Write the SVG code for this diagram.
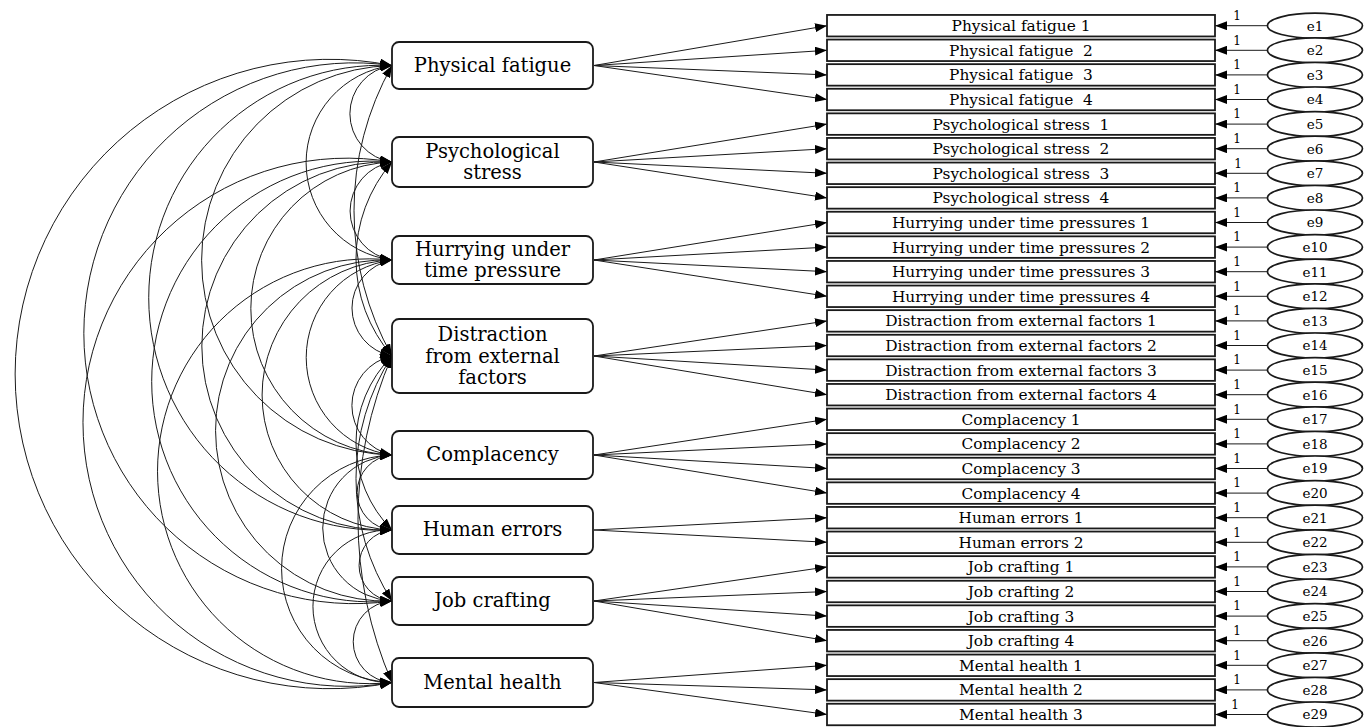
<svg xmlns="http://www.w3.org/2000/svg" width="1370" height="727" viewBox="0 0 1370 727">
<style>
.lat{fill:#fff;stroke:#1a1a1a;stroke-width:1.8}
.ind{fill:#fff;stroke:#1a1a1a;stroke-width:1.8}
.err{fill:#fff;stroke:#1a1a1a;stroke-width:1.7}
.lt{font-family:"DejaVu Serif","Liberation Serif",serif;font-size:19.5px;fill:#000;text-anchor:middle}
.it{font-family:"DejaVu Serif","Liberation Serif",serif;font-size:15.4px;fill:#000;text-anchor:middle;white-space:pre}
.et{font-family:"DejaVu Serif","Liberation Serif",serif;font-size:13.5px;fill:#000;text-anchor:middle}
.one{font-family:"DejaVu Serif","Liberation Serif",serif;font-size:12px;fill:#000;text-anchor:middle}
.arc{fill:none;stroke:#1a1a1a;stroke-width:1;marker-start:url(#ah);marker-end:url(#ah)}
.ld{fill:none;stroke:#1a1a1a;stroke-width:1;marker-end:url(#ah)}
</style>
<defs>
<marker id="ah" viewBox="0 0 12 9" refX="12" refY="4.5" markerWidth="12" markerHeight="9" markerUnits="userSpaceOnUse" orient="auto-start-reverse"><path d="M0,0 L12,4.5 L0,9 z" fill="#000"/></marker>
</defs>
<rect width="1370" height="727" fill="#fff"/>
<g id="connectors">
<path class="arc" d="M392 65.5 A48.7 48.7 0 0 0 392 162"/>
<path class="arc" d="M392 65.5 A98 98 0 0 0 392 260"/>
<path class="arc" d="M392 65.5 A296.6 296.6 0 0 0 392 356"/>
<path class="arc" d="M392 65.5 A194.8 194.8 0 0 0 392 455"/>
<path class="arc" d="M392 65.5 A232.5 232.5 0 1 0 392 530"/>
<path class="arc" d="M392 65.5 A270.4 270.4 0 1 0 392 601"/>
<path class="arc" d="M392 65.5 A314.7 314.7 0 1 0 392 682.5"/>
<path class="arc" d="M392 162 A49.6 49.6 0 0 0 392 260"/>
<path class="arc" d="M392 162 A148.7 148.7 0 0 0 392 356"/>
<path class="arc" d="M392 162 A146.6 146.6 0 0 0 392 455"/>
<path class="arc" d="M392 162 A184.1 184.1 0 1 0 392 530"/>
<path class="arc" d="M392 162 A220.4 220.4 0 1 0 392 601"/>
<path class="arc" d="M392 162 A264.1 264.1 0 1 0 392 682.5"/>
<path class="arc" d="M392 260 A48.8 48.8 0 0 0 392 356"/>
<path class="arc" d="M392 260 A98.3 98.3 0 0 0 392 455"/>
<path class="arc" d="M392 260 A135.1 135.1 0 0 0 392 530"/>
<path class="arc" d="M392 260 A170.6 170.6 0 1 0 392 601"/>
<path class="arc" d="M392 260 A212.4 212.4 0 1 0 392 682.5"/>
<path class="arc" d="M392 356 A50.6 50.6 0 0 0 392 455"/>
<path class="arc" d="M392 356 A123.1 123.1 0 0 0 392 530"/>
<path class="arc" d="M392 356 A226.4 226.4 0 0 0 392 601"/>
<path class="arc" d="M392 356 A408.9 408.9 0 0 0 392 682.5"/>
<path class="arc" d="M392 455 A37.6 37.6 0 0 0 392 530"/>
<path class="arc" d="M392 455 A73.1 73.1 0 0 0 392 601"/>
<path class="arc" d="M392 455 A113.8 113.8 0 0 0 392 682.5"/>
<path class="arc" d="M392 530 A35.6 35.6 0 0 0 392 601"/>
<path class="arc" d="M392 530 A76.3 76.3 0 1 0 392 682.5"/>
<path class="arc" d="M392 601 A40.8 40.8 0 0 0 392 682.5"/>

<path class="ld" d="M594 65.5 L827 25.7"/>
<path class="ld" d="M594 65.5 L827 50.3"/>
<path class="ld" d="M594 65.5 L827 74.9"/>
<path class="ld" d="M594 65.5 L827 99.5"/>
<path class="ld" d="M594 162 L827 124.1"/>
<path class="ld" d="M594 162 L827 148.7"/>
<path class="ld" d="M594 162 L827 173.3"/>
<path class="ld" d="M594 162 L827 197.9"/>
<path class="ld" d="M594 260 L827 222.5"/>
<path class="ld" d="M594 260 L827 247.1"/>
<path class="ld" d="M594 260 L827 271.7"/>
<path class="ld" d="M594 260 L827 296.3"/>
<path class="ld" d="M594 356 L827 320.9"/>
<path class="ld" d="M594 356 L827 345.5"/>
<path class="ld" d="M594 356 L827 370.1"/>
<path class="ld" d="M594 356 L827 394.7"/>
<path class="ld" d="M594 455 L827 419.3"/>
<path class="ld" d="M594 455 L827 443.9"/>
<path class="ld" d="M594 455 L827 468.5"/>
<path class="ld" d="M594 455 L827 493.1"/>
<path class="ld" d="M594 530 L827 517.7"/>
<path class="ld" d="M594 530 L827 542.3"/>
<path class="ld" d="M594 601 L827 566.9"/>
<path class="ld" d="M594 601 L827 591.5"/>
<path class="ld" d="M594 601 L827 616.1"/>
<path class="ld" d="M594 601 L827 640.7"/>
<path class="ld" d="M594 682.5 L827 665.3"/>
<path class="ld" d="M594 682.5 L827 689.9"/>
<path class="ld" d="M594 682.5 L827 714.5"/>

<path class="ld" d="M1267.5 25.7 L1215 25.7"/>
<path class="ld" d="M1267.5 50.3 L1215 50.3"/>
<path class="ld" d="M1267.5 74.9 L1215 74.9"/>
<path class="ld" d="M1267.5 99.5 L1215 99.5"/>
<path class="ld" d="M1267.5 124.1 L1215 124.1"/>
<path class="ld" d="M1267.5 148.7 L1215 148.7"/>
<path class="ld" d="M1267.5 173.3 L1215 173.3"/>
<path class="ld" d="M1267.5 197.9 L1215 197.9"/>
<path class="ld" d="M1267.5 222.5 L1215 222.5"/>
<path class="ld" d="M1267.5 247.1 L1215 247.1"/>
<path class="ld" d="M1267.5 271.7 L1215 271.7"/>
<path class="ld" d="M1267.5 296.3 L1215 296.3"/>
<path class="ld" d="M1267.5 320.9 L1215 320.9"/>
<path class="ld" d="M1267.5 345.5 L1215 345.5"/>
<path class="ld" d="M1267.5 370.1 L1215 370.1"/>
<path class="ld" d="M1267.5 394.7 L1215 394.7"/>
<path class="ld" d="M1267.5 419.3 L1215 419.3"/>
<path class="ld" d="M1267.5 443.9 L1215 443.9"/>
<path class="ld" d="M1267.5 468.5 L1215 468.5"/>
<path class="ld" d="M1267.5 493.1 L1215 493.1"/>
<path class="ld" d="M1267.5 517.7 L1215 517.7"/>
<path class="ld" d="M1267.5 542.3 L1215 542.3"/>
<path class="ld" d="M1267.5 566.9 L1215 566.9"/>
<path class="ld" d="M1267.5 591.5 L1215 591.5"/>
<path class="ld" d="M1267.5 616.1 L1215 616.1"/>
<path class="ld" d="M1267.5 640.7 L1215 640.7"/>
<path class="ld" d="M1267.5 665.3 L1215 665.3"/>
<path class="ld" d="M1267.5 689.9 L1215 689.9"/>
<path class="ld" d="M1267.5 714.5 L1215 714.5"/>
<g class="one">
<text x="1237" y="20">1</text><text x="1237" y="44.6">1</text><text x="1237" y="69.2">1</text><text x="1237" y="93.8">1</text><text x="1237" y="118.4">1</text><text x="1237" y="143">1</text><text x="1238" y="167.6">1</text><text x="1237" y="192.2">1</text><text x="1237" y="216.8">1</text><text x="1237" y="241.4">1</text><text x="1237" y="266">1</text><text x="1237" y="290.6">1</text><text x="1237" y="315.2">1</text><text x="1237" y="339.8">1</text><text x="1237" y="364.4">1</text><text x="1237" y="389">1</text><text x="1237" y="413.6">1</text><text x="1237" y="438.2">1</text><text x="1237" y="462.8">1</text><text x="1237" y="487.4">1</text><text x="1237" y="512">1</text><text x="1237" y="536.6">1</text><text x="1237" y="561.2">1</text><text x="1237" y="585.8">1</text><text x="1237" y="610.4">1</text><text x="1237" y="635">1</text><text x="1237" y="659.6">1</text><text x="1237" y="684.2">1</text><text x="1235" y="708.8">1</text>
</g>
</g>

<g id="n-pf"><rect class="lat" x="392" y="42" width="201" height="47" rx="7"/><text class="lt" x="492.5" y="72">Physical fatigue</text></g>
<g id="n-ps"><rect class="lat" x="392" y="137" width="201" height="50" rx="7"/><text class="lt" x="492.5" y="158">Psychological</text><text class="lt" x="492.5" y="179">stress</text></g>
<g id="n-hu"><rect class="lat" x="392" y="236" width="201" height="48" rx="7"/><text class="lt" x="492.5" y="256">Hurrying under</text><text class="lt" x="492.5" y="277">time pressure</text></g>
<g id="n-di"><rect class="lat" x="392" y="319" width="201" height="74" rx="7"/><text class="lt" x="492.5" y="341">Distraction</text><text class="lt" x="492.5" y="363">from external</text><text class="lt" x="492.5" y="384">factors</text></g>
<g id="n-co"><rect class="lat" x="392" y="431" width="201" height="48" rx="7"/><text class="lt" x="492.5" y="461">Complacency</text></g>
<g id="n-he"><rect class="lat" x="392" y="506" width="201" height="48" rx="7"/><text class="lt" x="492.5" y="536">Human errors</text></g>
<g id="n-jc"><rect class="lat" x="392" y="577" width="201" height="48" rx="7"/><text class="lt" x="492.5" y="607">Job crafting</text></g>
<g id="n-mh"><rect class="lat" x="392" y="658" width="201" height="49" rx="7"/><text class="lt" x="492.5" y="688.5">Mental health</text></g>

<g id="i1"><rect class="ind" x="827" y="14.95" width="388" height="21.5"/><text class="it" x="1021" y="31.2">Physical fatigue 1</text></g>
<g id="i2"><rect class="ind" x="827" y="39.55" width="388" height="21.5"/><text class="it" x="1021" y="55.8" xml:space="preserve">Physical fatigue  2</text></g>
<g id="i3"><rect class="ind" x="827" y="64.15" width="388" height="21.5"/><text class="it" x="1021" y="80.4" xml:space="preserve">Physical fatigue  3</text></g>
<g id="i4"><rect class="ind" x="827" y="88.75" width="388" height="21.5"/><text class="it" x="1021" y="105" xml:space="preserve">Physical fatigue  4</text></g>
<g id="i5"><rect class="ind" x="827" y="113.35" width="388" height="21.5"/><text class="it" x="1021" y="129.6" xml:space="preserve">Psychological stress  1</text></g>
<g id="i6"><rect class="ind" x="827" y="137.95" width="388" height="21.5"/><text class="it" x="1021" y="154.2" xml:space="preserve">Psychological stress  2</text></g>
<g id="i7"><rect class="ind" x="827" y="162.55" width="388" height="21.5"/><text class="it" x="1021" y="178.8" xml:space="preserve">Psychological stress  3</text></g>
<g id="i8"><rect class="ind" x="827" y="187.15" width="388" height="21.5"/><text class="it" x="1021" y="203.4" xml:space="preserve">Psychological stress  4</text></g>
<g id="i9"><rect class="ind" x="827" y="211.75" width="388" height="21.5"/><text class="it" x="1021" y="228">Hurrying under time pressures 1</text></g>
<g id="i10"><rect class="ind" x="827" y="236.35" width="388" height="21.5"/><text class="it" x="1021" y="252.6">Hurrying under time pressures 2</text></g>
<g id="i11"><rect class="ind" x="827" y="260.95" width="388" height="21.5"/><text class="it" x="1021" y="277.2">Hurrying under time pressures 3</text></g>
<g id="i12"><rect class="ind" x="827" y="285.55" width="388" height="21.5"/><text class="it" x="1021" y="301.8">Hurrying under time pressures 4</text></g>
<g id="i13"><rect class="ind" x="827" y="310.15" width="388" height="21.5"/><text class="it" x="1021" y="326.4">Distraction from external factors 1</text></g>
<g id="i14"><rect class="ind" x="827" y="334.75" width="388" height="21.5"/><text class="it" x="1021" y="351">Distraction from external factors 2</text></g>
<g id="i15"><rect class="ind" x="827" y="359.35" width="388" height="21.5"/><text class="it" x="1021" y="375.6">Distraction from external factors 3</text></g>
<g id="i16"><rect class="ind" x="827" y="383.95" width="388" height="21.5"/><text class="it" x="1021" y="400.2">Distraction from external factors 4</text></g>
<g id="i17"><rect class="ind" x="827" y="408.55" width="388" height="21.5"/><text class="it" x="1021" y="424.8">Complacency 1</text></g>
<g id="i18"><rect class="ind" x="827" y="433.15" width="388" height="21.5"/><text class="it" x="1021" y="449.4">Complacency 2</text></g>
<g id="i19"><rect class="ind" x="827" y="457.75" width="388" height="21.5"/><text class="it" x="1021" y="474">Complacency 3</text></g>
<g id="i20"><rect class="ind" x="827" y="482.35" width="388" height="21.5"/><text class="it" x="1021" y="498.6">Complacency 4</text></g>
<g id="i21"><rect class="ind" x="827" y="506.95" width="388" height="21.5"/><text class="it" x="1021" y="523.2">Human errors 1</text></g>
<g id="i22"><rect class="ind" x="827" y="531.55" width="388" height="21.5"/><text class="it" x="1021" y="547.8">Human errors 2</text></g>
<g id="i23"><rect class="ind" x="827" y="556.15" width="388" height="21.5"/><text class="it" x="1021" y="572.4">Job crafting 1</text></g>
<g id="i24"><rect class="ind" x="827" y="580.75" width="388" height="21.5"/><text class="it" x="1021" y="597">Job crafting 2</text></g>
<g id="i25"><rect class="ind" x="827" y="605.35" width="388" height="21.5"/><text class="it" x="1021" y="621.6">Job crafting 3</text></g>
<g id="i26"><rect class="ind" x="827" y="629.95" width="388" height="21.5"/><text class="it" x="1021" y="646.2">Job crafting 4</text></g>
<g id="i27"><rect class="ind" x="827" y="654.55" width="388" height="21.5"/><text class="it" x="1021" y="670.8">Mental health 1</text></g>
<g id="i28"><rect class="ind" x="827" y="679.15" width="388" height="21.5"/><text class="it" x="1021" y="695.4">Mental health 2</text></g>
<g id="i29"><rect class="ind" x="827" y="703.75" width="388" height="21.5"/><text class="it" x="1021" y="720">Mental health 3</text></g>

<g id="e1"><ellipse class="err" cx="1315" cy="25.7" rx="47.5" ry="12.5"/><text class="et" x="1315" y="30.5">e1</text></g>
<g id="e2"><ellipse class="err" cx="1315" cy="50.3" rx="47.5" ry="12.5"/><text class="et" x="1315" y="55.1">e2</text></g>
<g id="e3"><ellipse class="err" cx="1315" cy="74.9" rx="47.5" ry="12.5"/><text class="et" x="1315" y="79.7">e3</text></g>
<g id="e4"><ellipse class="err" cx="1315" cy="99.5" rx="47.5" ry="12.5"/><text class="et" x="1315" y="104.3">e4</text></g>
<g id="e5"><ellipse class="err" cx="1315" cy="124.1" rx="47.5" ry="12.5"/><text class="et" x="1315" y="128.9">e5</text></g>
<g id="e6"><ellipse class="err" cx="1315" cy="148.7" rx="47.5" ry="12.5"/><text class="et" x="1315" y="153.5">e6</text></g>
<g id="e7"><ellipse class="err" cx="1315" cy="173.3" rx="47.5" ry="12.5"/><text class="et" x="1315" y="178.1">e7</text></g>
<g id="e8"><ellipse class="err" cx="1315" cy="197.9" rx="47.5" ry="12.5"/><text class="et" x="1315" y="202.7">e8</text></g>
<g id="e9"><ellipse class="err" cx="1315" cy="222.5" rx="47.5" ry="12.5"/><text class="et" x="1315" y="227.3">e9</text></g>
<g id="e10"><ellipse class="err" cx="1315" cy="247.1" rx="47.5" ry="12.5"/><text class="et" x="1315" y="251.9">e10</text></g>
<g id="e11"><ellipse class="err" cx="1315" cy="271.7" rx="47.5" ry="12.5"/><text class="et" x="1315" y="276.5">e11</text></g>
<g id="e12"><ellipse class="err" cx="1315" cy="296.3" rx="47.5" ry="12.5"/><text class="et" x="1315" y="301.1">e12</text></g>
<g id="e13"><ellipse class="err" cx="1315" cy="320.9" rx="47.5" ry="12.5"/><text class="et" x="1315" y="325.7">e13</text></g>
<g id="e14"><ellipse class="err" cx="1315" cy="345.5" rx="47.5" ry="12.5"/><text class="et" x="1315" y="350.3">e14</text></g>
<g id="e15"><ellipse class="err" cx="1315" cy="370.1" rx="47.5" ry="12.5"/><text class="et" x="1315" y="374.9">e15</text></g>
<g id="e16"><ellipse class="err" cx="1315" cy="394.7" rx="47.5" ry="12.5"/><text class="et" x="1315" y="399.5">e16</text></g>
<g id="e17"><ellipse class="err" cx="1315" cy="419.3" rx="47.5" ry="12.5"/><text class="et" x="1315" y="424.1">e17</text></g>
<g id="e18"><ellipse class="err" cx="1315" cy="443.9" rx="47.5" ry="12.5"/><text class="et" x="1315" y="448.7">e18</text></g>
<g id="e19"><ellipse class="err" cx="1315" cy="468.5" rx="47.5" ry="12.5"/><text class="et" x="1315" y="473.3">e19</text></g>
<g id="e20"><ellipse class="err" cx="1315" cy="493.1" rx="47.5" ry="12.5"/><text class="et" x="1315" y="497.9">e20</text></g>
<g id="e21"><ellipse class="err" cx="1315" cy="517.7" rx="47.5" ry="12.5"/><text class="et" x="1315" y="522.5">e21</text></g>
<g id="e22"><ellipse class="err" cx="1315" cy="542.3" rx="47.5" ry="12.5"/><text class="et" x="1315" y="547.1">e22</text></g>
<g id="e23"><ellipse class="err" cx="1315" cy="566.9" rx="47.5" ry="12.5"/><text class="et" x="1315" y="571.7">e23</text></g>
<g id="e24"><ellipse class="err" cx="1315" cy="591.5" rx="47.5" ry="12.5"/><text class="et" x="1315" y="596.3">e24</text></g>
<g id="e25"><ellipse class="err" cx="1315" cy="616.1" rx="47.5" ry="12.5"/><text class="et" x="1315" y="620.9">e25</text></g>
<g id="e26"><ellipse class="err" cx="1315" cy="640.7" rx="47.5" ry="12.5"/><text class="et" x="1315" y="645.5">e26</text></g>
<g id="e27"><ellipse class="err" cx="1315" cy="665.3" rx="47.5" ry="12.5"/><text class="et" x="1315" y="670.1">e27</text></g>
<g id="e28"><ellipse class="err" cx="1315" cy="689.9" rx="47.5" ry="12.5"/><text class="et" x="1315" y="694.7">e28</text></g>
<g id="e29"><ellipse class="err" cx="1315" cy="714.5" rx="47.5" ry="12.5"/><text class="et" x="1315" y="719.3">e29</text></g>
</svg>
